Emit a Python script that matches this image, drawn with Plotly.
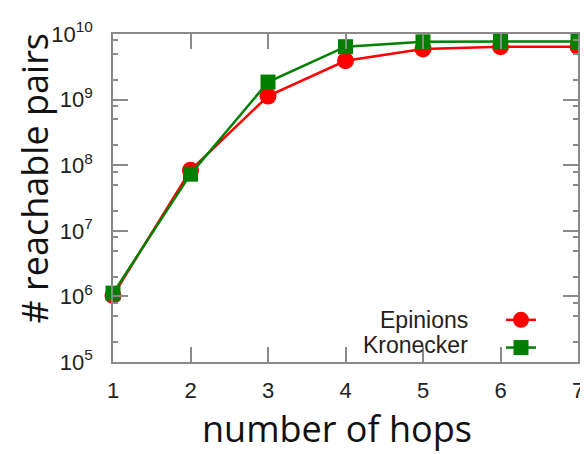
import plotly.graph_objects as go

# ---- data ----
hops = [1, 2, 3, 4, 5, 6, 7]
series_names = ["Epinions", "Kronecker"]
epinions = [1.03e6, 8.4e7, 1.13e9, 3.9e9, 5.9e9, 6.4e9, 6.4e9]
kronecker = [1.12e6, 7.3e7, 1.85e9, 6.4e9, 7.6e9, 7.7e9, 7.7e9]
x_ticks = [1, 2, 3, 4, 5, 6, 7]
y_exponents = [5, 6, 7, 8, 9, 10]
x_title = "number of hops"
y_title = "# reachable pairs"

# the page adds an 8px body margin, so the figure is offset by 8px
OFF = 8
W, H = 588 - OFF, 454 - OFF
L, R, T, B = 113 - OFF, 4, 34 - OFF, 92
pw, ph = W - L - R, H - T - B

def px_x(p):  # page pixel -> paper x
    return (p - OFF - L) / pw

def px_y(p):  # page pixel -> paper y
    return (H - B - (p - OFF)) / ph

RED = "#ff0000"
GREEN = "#007f00"
GREY = "#8a8a8a"
TICKFONT = dict(family="Liberation Sans, Arial, sans-serif", size=22, color="#222222")
LEGFONT = dict(family="Liberation Sans, Arial, sans-serif", size=23, color="#222222")
TITLEFONT = dict(family="Open Sans, sans-serif", size=36, color="#111111")

styles = [
    dict(color=RED, symbol="circle", size=17),
    dict(color=GREEN, symbol="square", size=15),
]
values = [epinions, kronecker]

fig = go.Figure()
for name, vals, st in zip(series_names, values, styles):
    fig.add_trace(go.Scatter(
        x=hops, y=vals, name=name, mode="lines+markers",
        line=dict(color=st["color"], width=2.5),
        marker=dict(color=st["color"], symbol=st["symbol"], size=st["size"]),
        cliponaxis=False, showlegend=False,
    ))
# legend samples (labels drawn as annotations to the left of the samples)
for name, st in zip(series_names, styles):
    fig.add_trace(go.Scatter(
        x=[None], y=[None], name=" ", mode="lines+markers",
        line=dict(color=st["color"], width=2.5),
        marker=dict(color=st["color"], symbol=st["symbol"], size=st["size"]),
        showlegend=True,
    ))

minor_vals = [m * 10 ** k for k in range(5, 10) for m in (2, 5, 8)]

fig.update_xaxes(
    range=[1, 7], tickvals=x_ticks, ticktext=[str(v) for v in x_ticks],
    showline=True, linecolor=GREY, linewidth=1.5, mirror="ticks",
    ticks="inside", ticklen=15, tickwidth=1.5, tickcolor=GREY,
    showgrid=False, zeroline=False, tickfont=TICKFONT, ticklabelstandoff=8,
    ticklabeloverflow="allow",
)
fig.update_yaxes(
    type="log", range=[5, 10],
    tickvals=[10 ** e for e in y_exponents],
    ticktext=["10<sup>%d</sup>" % e for e in y_exponents],
    showline=True, linecolor=GREY, linewidth=1.5, mirror="ticks",
    ticks="inside", ticklen=15, tickwidth=1.5, tickcolor=GREY,
    minor=dict(tickvals=minor_vals, ticks="inside", ticklen=5, tickwidth=1.5,
               tickcolor=GREY, showgrid=False),
    showgrid=False, zeroline=False, tickfont=TICKFONT, ticklabelstandoff=14,
)

annotations = [
    dict(text=x_title, xref="paper", yref="paper", x=px_x(339.5), y=px_y(428.5),
         xanchor="center", yanchor="middle", showarrow=False, font=TITLEFONT),
    dict(text=y_title, xref="paper", yref="paper", x=px_x(33), y=px_y(178.5),
         xanchor="center", yanchor="middle", textangle=-90, showarrow=False,
         font=TITLEFONT),
    dict(text=series_names[0], xref="paper", yref="paper", x=px_x(475), y=px_y(320),
         xanchor="right", yanchor="middle", showarrow=False, font=LEGFONT),
    dict(text=series_names[1], xref="paper", yref="paper", x=px_x(475), y=px_y(345),
         xanchor="right", yanchor="middle", showarrow=False, font=LEGFONT),
]

fig.update_layout(
    width=W, height=H, margin=dict(l=L, r=R, t=T, b=B, pad=0),
    paper_bgcolor="white", plot_bgcolor="white",
    showlegend=True,
    legend=dict(x=px_x(498 + OFF), y=px_y(293 + OFF), xanchor="left", yanchor="top",
                bgcolor="rgba(0,0,0,0)", font=dict(size=19), tracegroupgap=0,
                itemwidth=30),
    annotations=annotations,
)

fig.write_html("out.html")
